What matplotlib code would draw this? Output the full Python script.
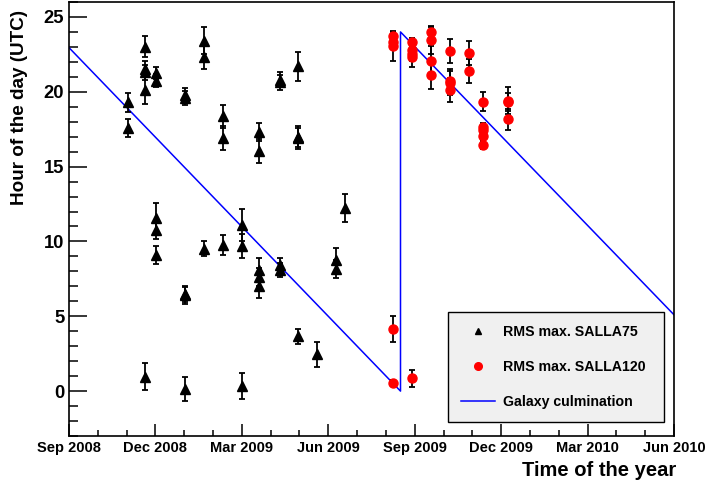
import numpy as np
import matplotlib
matplotlib.use("Agg")
import matplotlib.pyplot as plt
import matplotlib.dates as mdates
from matplotlib.lines import Line2D

plt.rcParams['font.family'] = ['Liberation Sans', 'DejaVu Sans']
plt.rcParams['font.weight'] = 'bold'

# RMS maxima from the SALLA75 antenna (date, hour UTC, error)
salla75_dates = (["2008-11-02"] * 2 + ["2008-11-20"] * 5 + ["2008-12-02"] * 5 +
                 ["2009-01-01"] * 5 + ["2009-01-21"] * 3 + ["2009-02-10"] * 3 +
                 ["2009-03-02"] * 3 + ["2009-03-20"] * 5 + ["2009-04-11"] * 4 +
                 ["2009-04-30"] * 4 + ["2009-05-21"] + ["2009-06-10"] * 2 +
                 ["2009-06-19"])
salla75_hours = [19.3, 17.6,
                 23.0, 21.55, 21.3, 20.1, 0.95,
                 21.25, 20.75, 11.6, 10.75, 9.1,
                 19.8, 19.6, 6.5, 6.4, 0.15,
                 23.4, 22.3, 9.5,
                 18.35, 16.9, 9.75,
                 11.1, 9.7, 0.35,
                 17.3, 16.05, 8.1, 7.6, 7.0,
                 20.8, 20.65, 8.45, 8.1,
                 21.7, 17.0, 16.9, 3.65,
                 2.45,
                 8.75, 8.15,
                 12.25]
salla75_err = [0.65, 0.6,
               0.7, 0.5, 0.5, 0.9, 0.9,
               0.4, 0.45, 1.0, 0.6, 0.6,
               0.45, 0.45, 0.55, 0.55, 0.8,
               0.9, 0.8, 0.5,
               0.75, 0.8, 0.65,
               1.05, 0.8, 0.85,
               0.6, 0.8, 0.8, 0.6, 0.75,
               0.5, 0.5, 0.45, 0.45,
               0.95, 0.7, 0.7, 0.5,
               0.85,
               0.8, 0.6,
               0.95]

# RMS maxima from the SALLA120 antenna
salla120_dates = (["2009-08-09"] * 5 + ["2009-08-29"] * 5 + ["2009-09-18"] * 4 +
                  ["2009-10-08"] * 4 + ["2009-10-28"] * 2 + ["2009-11-12"] * 5 +
                  ["2009-12-08"] * 3)
salla120_hours = [23.7, 23.35, 23.05, 4.15, 0.55,
                  23.3, 22.8, 22.55, 22.3, 0.85,
                  24.0, 23.45, 22.05, 21.1,
                  22.7, 20.7, 20.6, 20.1,
                  22.6, 21.4,
                  19.35, 17.65, 17.45, 17.05, 16.45,
                  19.4, 19.3, 18.15]
salla120_err = [0.3, 0.5, 1.0, 0.85, 0.2,
                0.3, 0.4, 0.5, 0.65, 0.55,
                0.4, 0.9, 1.0, 0.9,
                0.8, 0.85, 0.8, 0.8,
                0.8, 0.8,
                0.65, 0.25, 0.25, 0.25, 0.25,
                0.9, 0.6, 0.7]

# Galactic centre culmination time (wraps from 0 h back to 24 h)
galaxy_dates = ["2008-09-01", "2009-08-16T14:00", "2009-08-16T14:00", "2010-06-01"]
galaxy_hours = [22.95, 0.0, 24.0, 5.1]

x_tick_labels = ["Sep 2008", "Dec 2008", "Mar 2009", "Jun 2009",
                 "Sep 2009", "Dec 2009", "Mar 2010", "Jun 2010"]
y_ticks = [0, 5, 10, 15, 20, 25]


def to_num(dates):
    return mdates.date2num(np.array(dates, dtype="datetime64[m]"))


W, H = 708, 484
fig = plt.figure(figsize=(W / 100, H / 100), dpi=100)
ax = fig.add_axes([69 / W, 1 - 436 / H, 605 / W, 434 / H])

ax.plot(to_num(galaxy_dates), galaxy_hours, color="#0000ff", lw=1.1, zorder=2)

ax.errorbar(to_num(salla75_dates), salla75_hours, yerr=salla75_err,
            fmt="^", color="black", ms=6.5, ecolor="black", elinewidth=1.3,
            capsize=2.5, capthick=1.3, zorder=3)
ax.errorbar(to_num(salla120_dates), salla120_hours, yerr=salla120_err,
            fmt="o", color="red", mfc="red", mec="red", ms=6.5, ecolor="black",
            elinewidth=1.3, capsize=2.5, capthick=1.3, zorder=4)

x0, x1 = to_num(["2008-09-01", "2010-06-01"])
ax.set_xlim(x0, x1)
ax.set_ylim(-3.0, 26.0)

ax.set_xticks(np.linspace(x0, x1, len(x_tick_labels)))
ax.set_xticklabels(x_tick_labels)
ax.set_xticks(np.linspace(x0, x1, 3 * (len(x_tick_labels) - 1) + 1), minor=True)
ax.set_yticks(y_ticks)
ax.set_yticks(np.arange(-3, 27, 1), minor=True)

ax.tick_params(axis="both", which="both", direction="in",
               width=1.1, top=False, right=False)
ax.tick_params(axis="x", which="major", length=8.8, labelsize=10.5, pad=3.6)
ax.tick_params(axis="x", which="minor", length=4.3)
ax.tick_params(axis="y", which="major", length=12.7, labelsize=13.2, pad=3.4)
ax.tick_params(axis="y", which="minor", length=6.7)
for lab in ax.get_xticklabels() + ax.get_yticklabels():
    lab.set_fontweight("bold")

for side in ["left", "bottom", "top", "right"]:
    ax.spines[side].set_linewidth(1.2)
    ax.spines[side].set_color("black")

fig.text(20 / W, 1 - 10 / H, "Hour of the day (UTC)", rotation=90,
         ha="center", va="top", fontsize=13.6, fontweight="bold")
fig.text(676 / W, 1 - 476 / H, "Time of the year", ha="right",
         va="baseline", fontsize=14.5, fontweight="bold")

handles = [
    Line2D([], [], ls="none", marker="^", color="black", ms=5),
    Line2D([], [], ls="none", marker="o", color="red", ms=5.5),
    Line2D([], [], color="#0000ff", lw=1.1),
]
labels = ["RMS max. SALLA75", "RMS max. SALLA120", "Galaxy culmination"]
leg = ax.legend(handles, labels, loc="upper left",
                bbox_to_anchor=(448 / W, 1 - 312 / H, 216 / W, 0.0),
                bbox_transform=fig.transFigure, mode="expand",
                prop={"weight": "bold", "size": 10.2}, fancybox=False,
                framealpha=1.0, facecolor="#f0f0f0", edgecolor="black",
                borderpad=0.9, labelspacing=1.5, handlelength=2.45,
                handletextpad=0.5, borderaxespad=0.0)
leg.get_frame().set_linewidth(1.0)

fig.savefig("out.png", dpi=100)
